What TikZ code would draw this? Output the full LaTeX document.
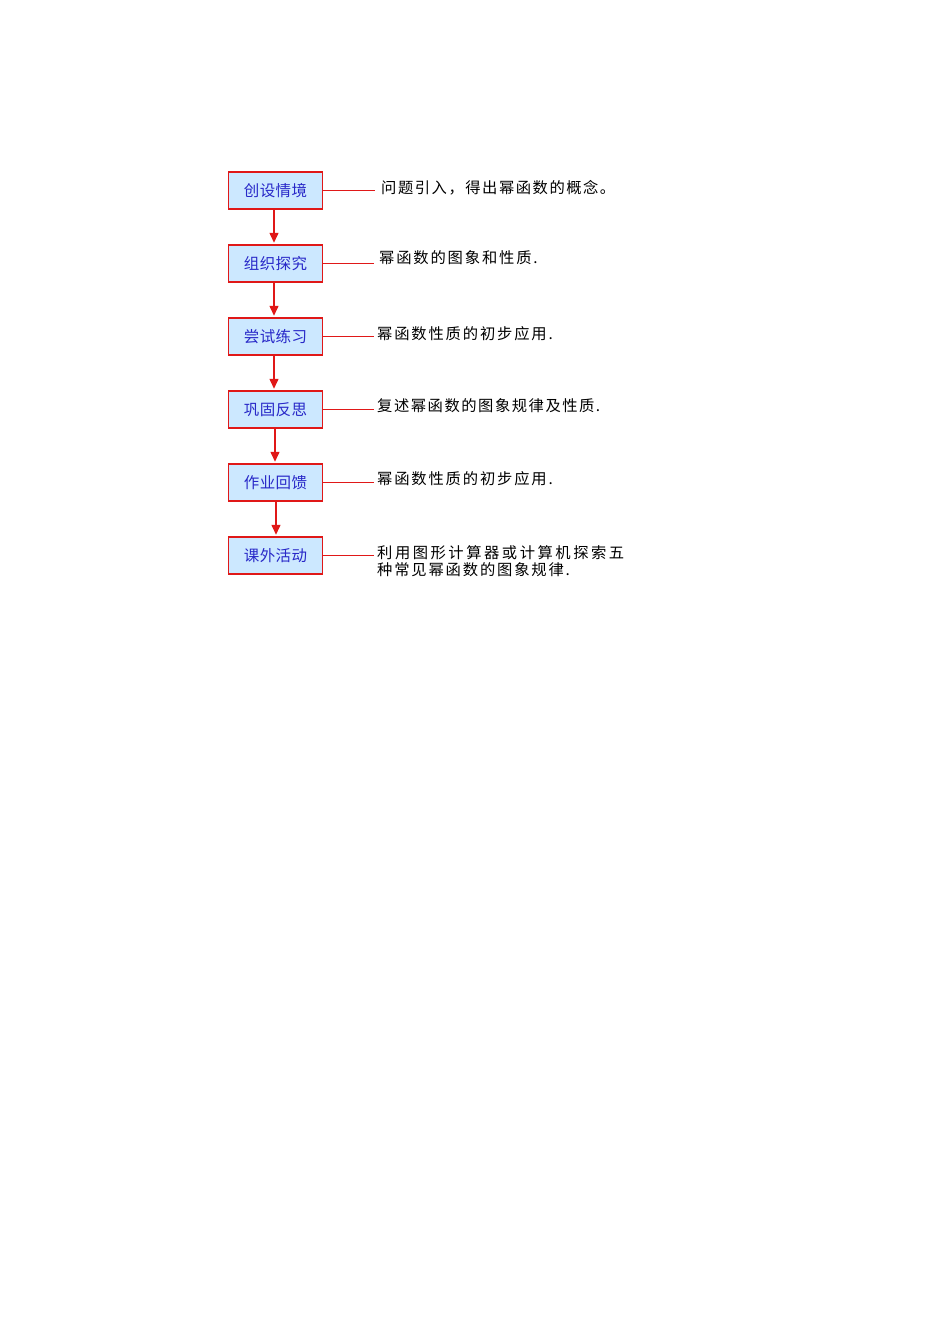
\documentclass[tikz,border=0pt]{standalone}
\usepackage{fontspec}
\setmainfont{Noto Sans CJK SC}
\newfontfamily\spaced[LetterSpace=12]{Noto Sans CJK SC}
\newfontfamily\spacedless[LetterSpace=10]{Noto Sans CJK SC}
\newfontfamily\spacedwide[LetterSpace=16.5]{Noto Sans CJK SC}
\newfontfamily\boxfont[LetterSpace=3]{Noto Sans CJK SC}
\usetikzlibrary{arrows.meta}
\definecolor{boxfill}{HTML}{CCE8FF}
\definecolor{boxtext}{HTML}{2828C8}
\definecolor{linered}{HTML}{E01818}
\tikzset{
  stagebox/.style={draw=linered, line width=1.5pt, fill=boxfill, minimum width=94pt, minimum height=37pt, inner sep=0pt, text=boxtext, font=\boxfont\fontsize{15.5pt}{17pt}\selectfont},
  flowarrow/.style={draw=linered, line width=1.5pt, -{Triangle[width=9pt,length=10pt]}},
  linkline/.style={draw=linered, line width=1.7pt},
  desc/.style={anchor=west, inner sep=0pt, text=black, align=left, font=\spaced\fontsize{15.3pt}{17pt}\selectfont}
}
\begin{document}
\begin{tikzpicture}[x=1pt,y=-1pt]
\useasboundingbox (0,0) rectangle (950,1344);
\node[stagebox] (b1) at (275.5,190.5) {创设情境};
\node[stagebox] (b2) at (275.5,263.5) {组织探究};
\node[stagebox] (b3) at (275.5,336.5) {尝试练习};
\node[stagebox] (b4) at (275.5,409.5) {巩固反思};
\node[stagebox] (b5) at (275.5,482.5) {作业回馈};
\node[stagebox] (b6) at (275.5,555.5) {课外活动};
\coordinate (e1) at (375,190.5);
\coordinate (e2) at (374,263.5);
\coordinate (e3) at (374,336.5);
\coordinate (e4) at (374,409.5);
\coordinate (e5) at (374,482.5);
\coordinate (e6) at (374,555.5);
\node[desc] (t1) at (381,188) {\spacedless 问题引入，得出幂函数的概念。};
\node[desc] (t2) at (379,258) {幂函数的图象和性质.};
\node[desc] (t3) at (377,334) {幂函数性质的初步应用.};
\node[desc] (t4) at (377,406) {\spacedless 复述幂函数的图象规律及性质.};
\node[desc] (t5) at (377,479) {幂函数性质的初步应用.};
\node[desc] (t6) at (377,561.5) {{\spacedwide 利用图形计算器或计算机探索五}\\种常见幂函数的图象规律.};
\foreach \i in {1,...,6} \draw[linkline] (b\i.east) -- (e\i);
\draw[flowarrow] (b1.south) ++(-1.5,0) -- ++(0,33);
\draw[flowarrow] (b2.south) ++(-1.5,0) -- ++(0,33);
\draw[flowarrow] (b3.south) ++(-1.5,0) -- ++(0,33);
\draw[flowarrow] (b4.south) ++(-0.5,0) -- ++(0,33);
\draw[flowarrow] (b5.south) ++(0.5,0) -- ++(0,33);
\end{tikzpicture}
\end{document}
